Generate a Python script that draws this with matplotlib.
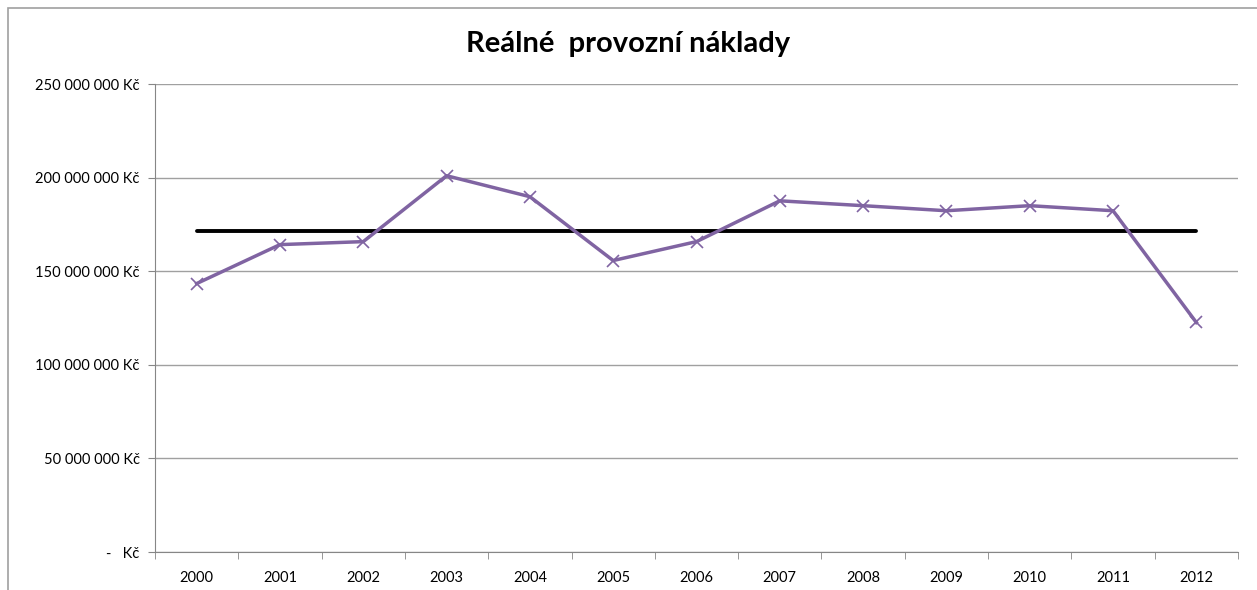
import matplotlib.pyplot as plt
from matplotlib.patches import Rectangle
import numpy as np

plt.rcParams['font.family'] = ['Lato', 'DejaVu Sans']

years = ['2000', '2001', '2002', '2003', '2004', '2005', '2006',
         '2007', '2008', '2009', '2010', '2011', '2012']
costs = [143.4e6, 164.2e6, 165.8e6, 201.0e6, 189.8e6, 155.7e6, 165.8e6,
         187.6e6, 185.0e6, 182.3e6, 185.0e6, 182.3e6, 122.6e6]
avg = [np.mean(costs)] * len(years)
yticks = [0, 50e6, 100e6, 150e6, 200e6, 250e6]
ytick_labels = ['-   Kč', '50 000 000 Kč', '100 000 000 Kč', '150 000 000 Kč',
                '200 000 000 Kč', '250 000 000 Kč']

fig = plt.figure(figsize=(12.57, 5.90), dpi=100)
# outer chart border (cropped at right/bottom)
fig.patches.append(Rectangle((8 / 1257, -0.1), 1.2, 0.1 + (590 - 8) / 590,
                             transform=fig.transFigure, fill=False,
                             edgecolor='#a0a0a0', linewidth=1.2))

ax = fig.add_axes([155 / 1257, 38 / 590, 1083 / 1257, 468 / 590])
x = np.arange(len(years))

ax.plot(x, avg, color='black', linewidth=2.8, solid_capstyle='round', zorder=3)
ax.plot(x, costs, color='#8064A2', linewidth=2.5, marker='x', markersize=9,
        markeredgewidth=1.2, zorder=4)

ax.set_xlim(-0.5, len(years) - 0.5)
ax.set_ylim(0, 250e6)
ax.set_yticks(yticks)
ax.set_yticklabels(ytick_labels, fontsize=10.5)
ax.set_xticks(x)
ax.set_xticklabels(years, fontsize=10.5)
ax.set_xticks(np.arange(-0.5, len(years), 1), minor=True)
ax.tick_params(axis='x', which='major', length=0, pad=14)
ax.tick_params(axis='x', which='minor', length=5, color='#868686')
ax.tick_params(axis='y', length=5, color='#868686', pad=6)

ax.grid(axis='y', color='#a0a0a0', linewidth=1)
ax.set_axisbelow(True)
for s in ['top', 'right']:
    ax.spines[s].set_visible(False)
for s in ['left', 'bottom']:
    ax.spines[s].set_color('#868686')

fig.text(0.5, 0.925, 'Reálné  provozní náklady', ha='center', va='center',
         fontsize=21, fontweight='bold')

fig.savefig('out.png', dpi=100)
